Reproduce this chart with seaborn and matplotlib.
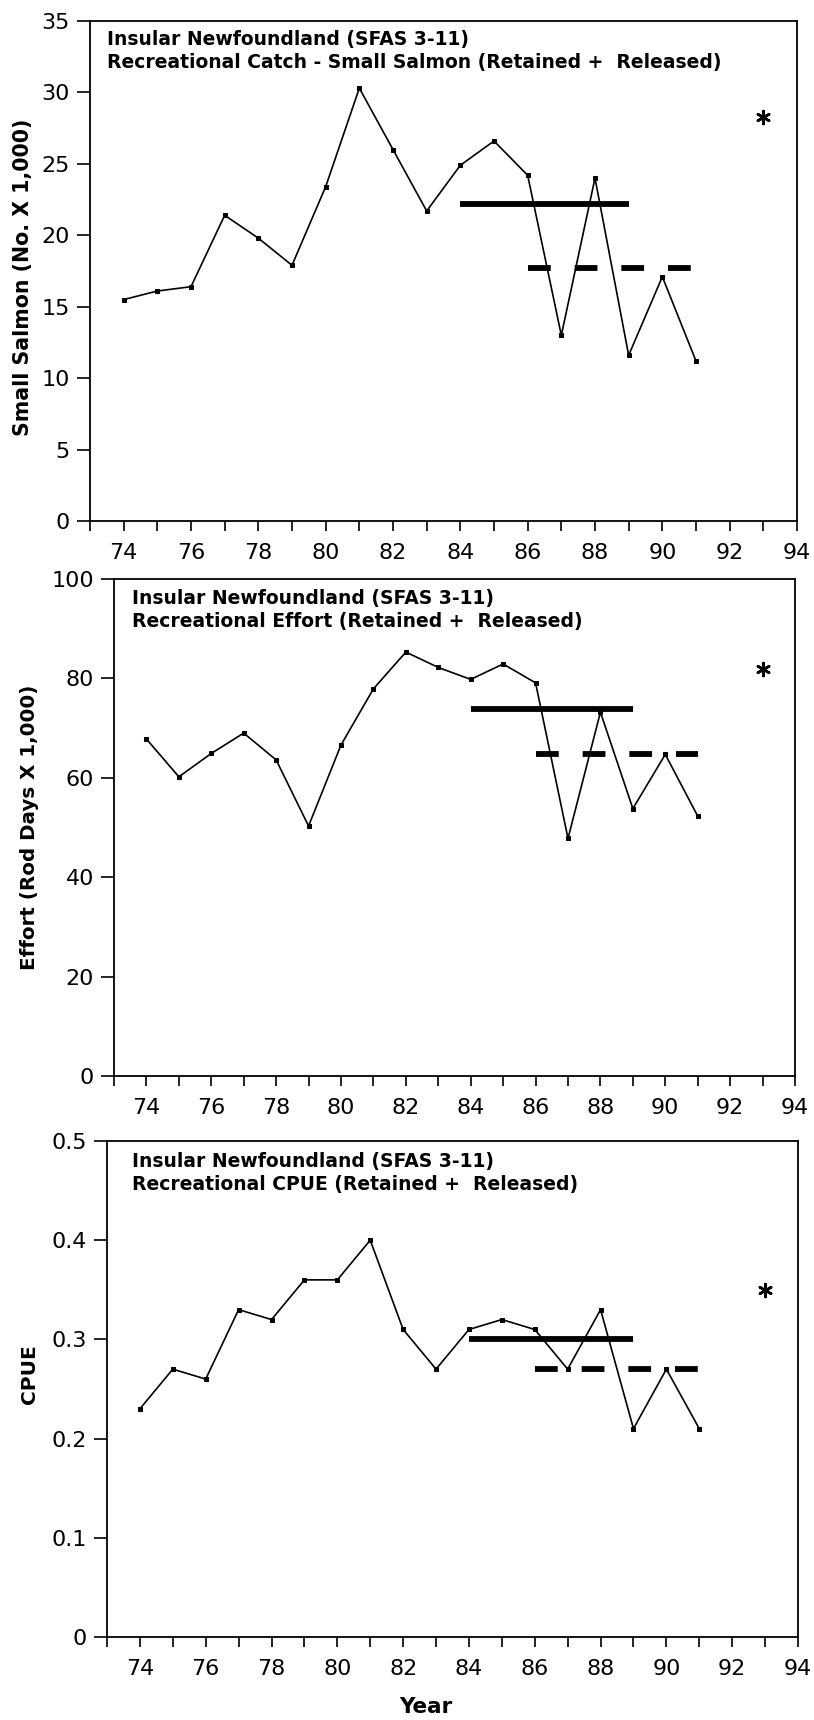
import matplotlib
matplotlib.use("Agg")
import matplotlib.pyplot as plt
import seaborn as sns
import numpy as np
import pandas as pd
from matplotlib.ticker import MultipleLocator, FuncFormatter

# ---------------- data ----------------
years = [74, 75, 76, 77, 78, 79, 80, 81, 82, 83, 84, 85, 86, 87, 88, 89, 90, 91]

catch = [15.5, 16.1, 16.4, 21.4, 19.8, 17.9, 23.4, 30.3, 26.0, 21.7,
         24.9, 26.6, 24.2, 13.0, 24.0, 11.6, 17.1, 11.2]
effort = [67.8, 60.2, 64.9, 69.0, 63.6, 50.3, 66.6, 77.9, 85.3, 82.2,
          79.8, 82.9, 79.1, 47.8, 73.2, 53.8, 64.7, 52.3]
cpue = [0.23, 0.27, 0.26, 0.33, 0.32, 0.36, 0.36, 0.40, 0.31, 0.27,
        0.31, 0.32, 0.31, 0.27, 0.33, 0.21, 0.27, 0.21]

mean_8489_years = [84, 89]
mean_8691_years = [86, 91]
catch_mean_8489, catch_mean_8691 = 22.2, 17.7
effort_mean_8489, effort_mean_8691 = 73.9, 64.7
cpue_mean_8489, cpue_mean_8691 = 0.30, 0.27

proj_year = [93]
catch_proj = [28.3]
effort_proj = [81.8]
cpue_proj = [0.35]

titles = [
    "Insular Newfoundland (SFAS 3-11)\nRecreational Catch - Small Salmon (Retained +  Released)",
    "Insular Newfoundland (SFAS 3-11)\nRecreational Effort (Retained +  Released)",
    "Insular Newfoundland (SFAS 3-11)\nRecreational CPUE (Retained +  Released)",
]
ylabels = ["Small Salmon (No. X 1,000)", "Effort (Rod Days X 1,000)", "CPUE"]
ylims = [(0, 35), (0, 100), (0, 0.5)]
ysteps = [5, 20, 0.1]
xticks = [74, 76, 78, 80, 82, 84, 86, 88, 90, 92, 94]

# ---------------- style ----------------
sns.set_theme(style="white")
plt.rcParams["font.family"] = ["DejaVu Sans"]

W, H = 814, 1720
fig = plt.figure(figsize=(W / 100, H / 100), dpi=100)

# axes boxes in pixels: left, top, right, bottom
boxes = [(90, 21, 797, 521), (114, 579, 795, 1076), (107, 1141, 798, 1637)]
text_off = [(0.024, 9), (0.026, 10), (0.036, 11)]
ylab_pos = [(33, 0.488), (39, 0.50), (39, 0.53)]
ylab_size = [14.8, 14.3, 14.5]

series = [
    (catch, catch_mean_8489, catch_mean_8691, catch_proj),
    (effort, effort_mean_8489, effort_mean_8691, effort_proj),
    (cpue, cpue_mean_8489, cpue_mean_8691, cpue_proj),
]


def fmt(v, pos):
    if abs(v) < 1e-9:
        return "0"
    if abs(v - round(v)) < 1e-9:
        return "%d" % round(v)
    return "%.1f" % v


axes = []
for i, (l, t, r, b) in enumerate(boxes):
    ax = fig.add_axes([l / W, (H - b) / H, (r - l) / W, (b - t) / H])
    axes.append(ax)
    vals, m1, m2, proj = series[i]
    df = pd.DataFrame({"year": years, "value": vals})

    sns.lineplot(data=df, x="year", y="value", ax=ax, color="black",
                 linewidth=1.2, marker="s", markersize=3.4,
                 markeredgecolor="black", markerfacecolor="black")
    sns.lineplot(x=mean_8489_years, y=[m1, m1], ax=ax, color="black",
                 linewidth=4.2, solid_capstyle="butt")
    sns.lineplot(x=mean_8691_years, y=[m2, m2], ax=ax, color="black",
                 linewidth=4.2, linestyle=(0, (3.9, 4.1)), dash_capstyle="butt")
    sns.scatterplot(x=proj_year, y=proj, ax=ax, color="black",
                    marker=(6, 2, 0), s=85, linewidth=1.9)

    ax.set_xlim(73, 94)
    ax.set_ylim(*ylims[i])
    ax.set_xticks(xticks)
    ax.xaxis.set_minor_locator(MultipleLocator(1))
    ax.yaxis.set_major_locator(MultipleLocator(ysteps[i]))
    ax.yaxis.set_major_formatter(FuncFormatter(fmt))
    ax.set_ylim(*ylims[i])

    for s in ax.spines.values():
        s.set_color("black")
        s.set_linewidth(1.3)

    ax.tick_params(axis="x", which="both", direction="out", length=7,
                   width=1.2, color="black", bottom=True, top=False,
                   labelsize=16, pad=9, labelcolor="black")
    ax.tick_params(axis="y", which="both", direction="out", length=9.5,
                   width=1.2, color="black", left=True, right=False,
                   labelsize=16, pad=5, labelcolor="black")

    ax.set_xlabel("")
    ax.set_ylabel(ylabels[i], fontsize=ylab_size[i], fontweight="bold",
                  color="black")
    xr, yc = ylab_pos[i]
    ax.yaxis.set_label_coords((xr - l) / (r - l), yc)

    tx, toff = text_off[i]
    ax.text(tx, 1 - toff / (b - t), titles[i], transform=ax.transAxes,
            ha="left", va="top", fontsize=13.5, fontweight="bold",
            color="black", linespacing=1.25)

ax3 = axes[2]
ax3.set_xlabel("Year", fontsize=15.5, fontweight="bold", color="black")
l, t, r, b = boxes[2]
ax3.xaxis.set_label_coords((426 - l) / (r - l), (b - 1697) / (b - t))

fig.savefig("out.png", dpi=100, facecolor="white")
